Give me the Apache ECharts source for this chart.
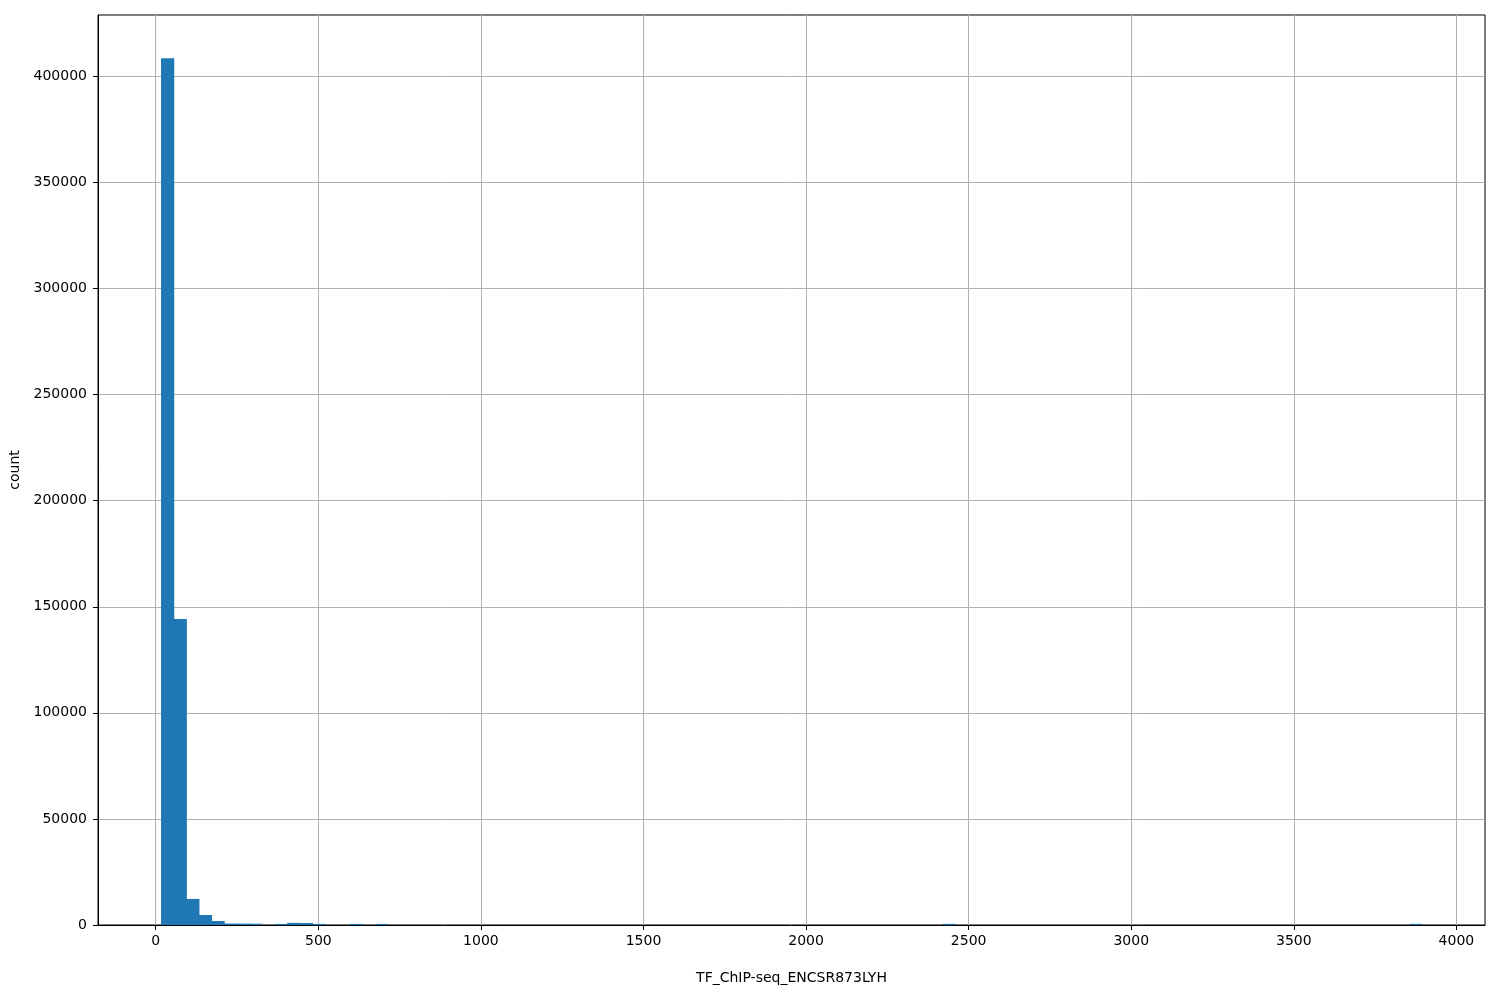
<!DOCTYPE html>
<html>
<head>
<meta charset="utf-8">
<script src="https://cdn.jsdelivr.net/npm/echarts@6/dist/echarts.min.js"></script>
<style>html,body{margin:0;padding:0;background:#fff}#c{width:1500px;height:1000px}</style>
</head>
<body>
<div id="c"></div>
<script>
// Histogram data (100 equal bins between binMin and binMax)
const binMin = 16.3;
const binMax = 3894;
const counts = [
  408500, 144200, 12300, 4700, 1900, 700, 650, 600, 0, 500,
  1000, 950, 500, 0, 0, 500, 0, 500, 0, 0,
  0, 0, 0, 0, 0, 0, 0, 0, 0, 0,
  0, 0, 0, 0, 0, 0, 0, 0, 0, 0,
  0, 0, 0, 0, 0, 0, 0, 0, 0, 0,
  0, 0, 0, 0, 0, 0, 0, 0, 0, 0,
  0, 0, 550, 0, 0, 0, 0, 0, 0, 0,
  0, 0, 0, 0, 0, 0, 0, 0, 0, 0,
  0, 0, 0, 0, 0, 0, 0, 0, 0, 0,
  0, 0, 0, 0, 0, 0, 0, 0, 0, 550
];
const xTicks = [0, 500, 1000, 1500, 2000, 2500, 3000, 3500, 4000];
const yTicks = [0, 50000, 100000, 150000, 200000, 250000, 300000, 350000, 400000];
const xTitle = 'TF_ChIP-seq_ENCSR873LYH';
const yTitle = 'count';

const nBins = counts.length;
const w = (binMax - binMin) / nBins;
const data = counts.map((c, i) => [binMin + i * w, binMin + (i + 1) * w, c]);
const xPad = (binMax - binMin) * 0.05;
const yMax = Math.max(...counts) * 1.05;

const font = 'DejaVu Sans';
const chart = echarts.init(document.getElementById('c'), null, {renderer: 'canvas'});
chart.setOption({
  animation: false,
  backgroundColor: '#fff',
  grid: {left: 98, right: 15, top: 15, bottom: 75, containLabel: false, outerBoundsMode: 'none',
         show: true, borderColor: '#000', borderWidth: 1, backgroundColor: 'transparent'},
  xAxis: {
    type: 'value', min: binMin - xPad, max: binMax + xPad,
    name: xTitle, nameLocation: 'middle', nameGap: 46,
    nameTextStyle: {fontFamily: font, fontSize: 14, color: '#000'},
    axisLine: {show: true, onZero: false, lineStyle: {color: '#000', width: 1}},
    axisTick: {show: true, length: 5, lineStyle: {color: '#000'}, customValues: xTicks},
    axisLabel: {fontFamily: font, fontSize: 14, color: '#000', margin: 9, customValues: xTicks,
                formatter: v => String(v)},
    splitLine: {show: true, lineStyle: {color: '#b0b0b0', width: 1}}
  },
  yAxis: {
    type: 'value', min: 0, max: yMax,
    name: yTitle, nameLocation: 'middle', nameGap: 59, nameRotate: 90,
    nameTextStyle: {fontFamily: font, fontSize: 14, color: '#000'},
    axisLine: {show: true, onZero: false, lineStyle: {color: '#000', width: 1}},
    axisTick: {show: true, length: 5, lineStyle: {color: '#000'}, customValues: yTicks},
    axisLabel: {fontFamily: font, fontSize: 14, color: '#000', margin: 11, customValues: yTicks,
                formatter: v => String(v)},
    splitLine: {show: true, lineStyle: {color: '#b0b0b0', width: 1}}
  },
  series: [{
    type: 'custom',
    data: data,
    encode: {x: [0, 1], y: 2},
    renderItem: function (params, api) {
      const c = api.value(2);
      if (!c) return null;
      const p0 = api.coord([api.value(0), c]);
      const p1 = api.coord([api.value(1), 0]);
      return {
        type: 'rect',
        shape: {x: p0[0], y: p0[1], width: p1[0] - p0[0] + 0.6, height: p1[1] - p0[1]},
        style: {fill: '#1f77b4'}
      };
    }
  }]
});
</script>
</body>
</html>
